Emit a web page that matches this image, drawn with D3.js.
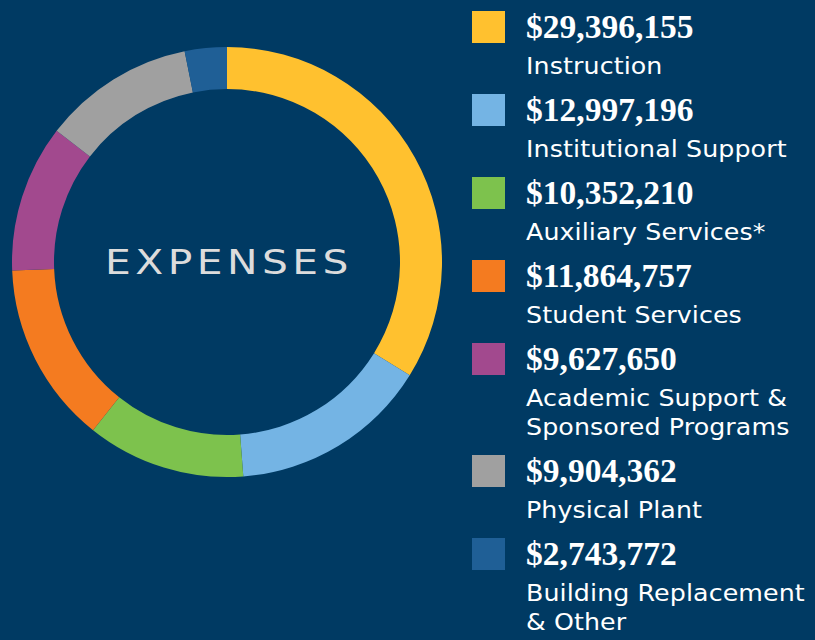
<!DOCTYPE html>
<html>
<head>
<meta charset="utf-8">
<script src="https://cdn.jsdelivr.net/npm/d3@7"></script>
<style>
  html, body { margin: 0; padding: 0; background: #003a63; }
  svg { display: block; }
  .value { font-family: "Liberation Serif", serif; font-weight: bold; fill: #fff; }
  .label { font-family: "DejaVu Sans", sans-serif; fill: #fff; }
</style>
</head>
<body>
<svg id="chart" width="815" height="640"></svg>
<script>
// expense categories, clockwise from 12 o'clock
const amounts = ["$29,396,155", "$12,997,196", "$10,352,210", "$11,864,757", "$9,627,650", "$9,904,362", "$2,743,772"];
const values = [29396155, 12997196, 10352210, 11864757, 9627650, 9904362, 2743772];
const labels = [
    ["Instruction"],
    ["Institutional Support"],
    ["Auxiliary Services*"],
    ["Student Services"],
    ["Academic Support &", "Sponsored Programs"],
    ["Physical Plant"],
    ["Building Replacement", "& Other"]
];
const colors = ["#ffc12f", "#74b4e4", "#7dc24d", "#f47b20", "#a2498e", "#a0a0a0", "#1f5f96"];

const svg = d3.select("#chart");

// --- donut ---
const cx = 227, cy = 262;
const pie = d3.pie().sort(null).value(d => d);
const arc = d3.arc().innerRadius(173).outerRadius(215);

const ring = svg.append("g").attr("transform", `translate(${cx},${cy})`);
ring.selectAll("path")
    .data(pie(values))
    .enter().append("path")
    .attr("d", arc)
    .attr("fill", (d, i) => colors[i]);

// wide caps: stretch horizontally, letter-spacing pads the last glyph so nudge right
ring.append("g")
    .attr("transform", "scale(1.2,1)")
    .append("text")
    .attr("text-anchor", "middle")
    .attr("x", 1.6)
    .attr("y", 12)
    .style("font-family", "'DejaVu Sans', sans-serif")
    .style("font-size", "34px")
    .style("letter-spacing", "3.7px")
    .style("fill", "#dcdcdc")
    .text("EXPENSES");

// --- legend ---
const legend = svg.append("g");
let y = 11;
values.forEach((v, i) => {
    const item = legend.append("g").attr("transform", `translate(472,${y})`);
    item.append("rect")
        .attr("width", 33).attr("height", 32)
        .attr("fill", colors[i]);
    item.append("text")
        .attr("class", "value")
        .attr("x", 54).attr("y", 27)
        .style("font-size", "33.5px")
        .text(amounts[i]);
    labels[i].forEach((line, j) => {
        item.append("text")
            .attr("class", "label")
            .attr("transform", `translate(54,${63 + j * 29}) scale(1.1,1)`)
            .style("font-size", "23px")
            .style("letter-spacing", "0.1px")
            .text(line);
    });
    y += 83 + (labels[i].length - 1) * 29;
});
</script>
</body>
</html>
